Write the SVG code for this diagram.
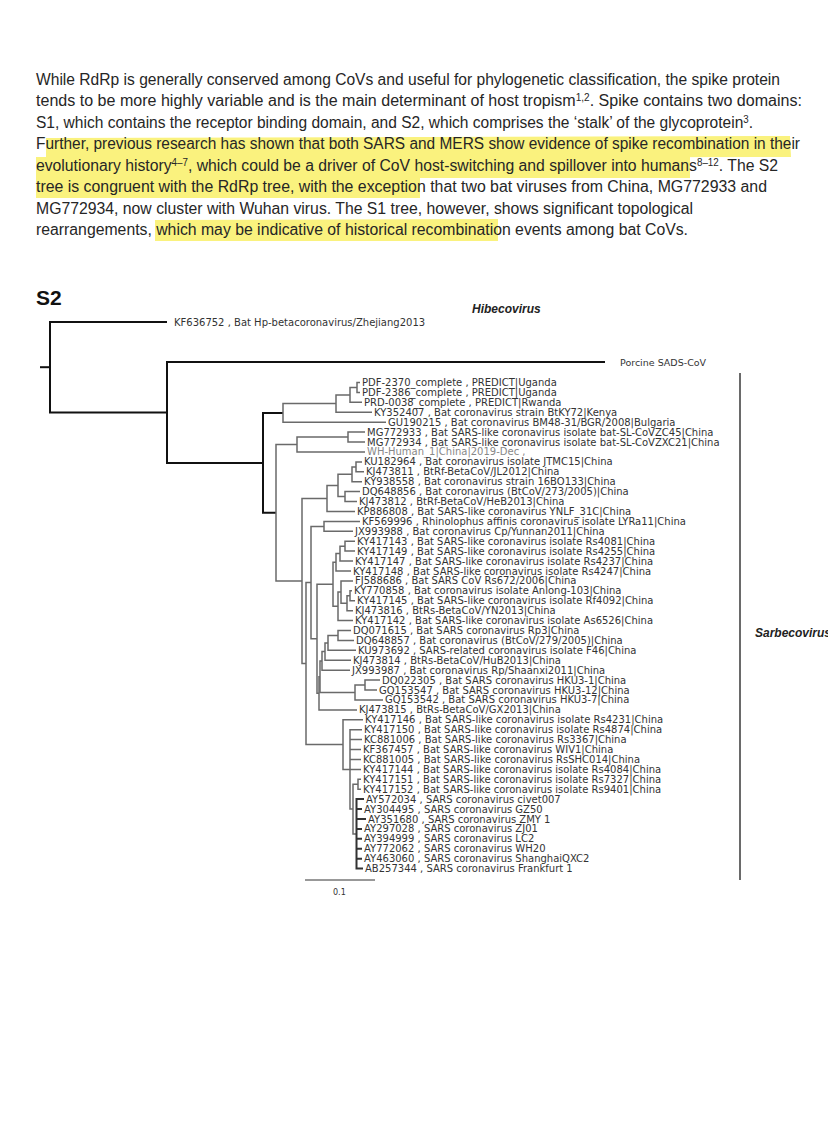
<svg xmlns="http://www.w3.org/2000/svg" width="828" height="1128" viewBox="0 0 828 1128" xml:space="preserve">
<style>
.p{font-family:"Liberation Sans",Arial,sans-serif;font-size:16px;fill:#262626}
.sup{font-size:10px}
.hl{fill:#faf27e}
.k{fill:none;stroke:#111;stroke-width:2}
.g{fill:none;stroke:#6a6a6a;stroke-width:1.5}
.d{fill:none;stroke:#333;stroke-width:2}
.t{font-family:"DejaVu Sans",Verdana,sans-serif;font-size:10px;fill:#333}
.cl{font-family:"Liberation Sans",Arial,sans-serif;font-size:12px;font-weight:bold;font-style:italic;fill:#222}
</style>
<rect width="828" height="1128" fill="#fff"/>
<g id="highlights">
<path class="hl" d="M46 138 L790 136 L791 157 L46 158 Z"/>
<path class="hl" d="M36 157 L690 157 L690 178 L36 178 Z"/>
<path class="hl" d="M36 178 L420 178 L420 198 L36 198 Z"/>
<path class="hl" d="M155 220 L498 219 L498 241 L155 241 Z"/>
</g>
<g id="paragraph">
<text class="p" x="36" y="84.5" textLength="744" lengthAdjust="spacingAndGlyphs">While RdRp is generally conserved among CoVs and useful for phylogenetic classification, the spike protein</text>
<text class="p" x="36" y="106" textLength="766" lengthAdjust="spacingAndGlyphs">tends to be more highly variable and is the main determinant of host tropism<tspan class="sup" dy="-5">1,2</tspan><tspan dy="5">. Spike contains two domains:</tspan></text>
<text class="p" x="36" y="127.5" textLength="717" lengthAdjust="spacingAndGlyphs">S1, which contains the receptor binding domain, and S2, which comprises the ‘stalk’ of the glycoprotein<tspan class="sup" dy="-5">3</tspan><tspan dy="5">.</tspan></text>
<text class="p" x="36" y="149" textLength="764" lengthAdjust="spacingAndGlyphs">Further, previous research has shown that both SARS and MERS show evidence of spike recombination in their</text>
<text class="p" x="36" y="170.5" textLength="742" lengthAdjust="spacingAndGlyphs">evolutionary history<tspan class="sup" dy="-5">4–7</tspan><tspan dy="5">, which could be a driver of CoV host-switching and spillover into humans</tspan><tspan class="sup" dy="-5">8–12</tspan><tspan dy="5">. The S2</tspan></text>
<text class="p" x="36" y="192" textLength="731" lengthAdjust="spacingAndGlyphs">tree is congruent with the RdRp tree, with the exception that two bat viruses from China, MG772933 and</text>
<text class="p" x="36" y="213.5" textLength="657" lengthAdjust="spacingAndGlyphs">MG772934, now cluster with Wuhan virus. The S1 tree, however, shows significant topological</text>
<text class="p" x="36" y="235" textLength="652" lengthAdjust="spacingAndGlyphs">rearrangements, which may be indicative of historical recombination events among bat CoVs.</text>
</g>
<g id="title"><text x="36" y="305" font-family="Liberation Sans,Arial,sans-serif" font-size="21" font-weight="bold" fill="#111">S2</text></g>
<g id="connectors">
<path class="k" d="M40 367.2 H50"/>
<path class="k" d="M167 322 H50 V412.4 H167"/>
<path class="k" d="M605 362 H167 V462.9 H263"/>
<path class="k" d="M283 412.9 H263 V512.8 H276"/>
<path class="g" d="M336 403.6 H283 V422.2 H386"/>
<path class="g" d="M350 394.9 H336 V412.3 H372"/>
<path class="g" d="M357 387.5 H350 V402.3 H362"/>
<path class="g" d="M360 382.5 H357 V392.4 H360"/>
<path class="g" d="M297 444.5 H276 V581 H302"/>
<path class="g" d="M348 437 H297 V451.9 H365"/>
<path class="g" d="M365 432.1 H348 V442 H365"/>
<path class="g" d="M327 498.5 H302 V663.6 H306"/>
<path class="g" d="M338 485.4 H327 V511.5 H355"/>
<path class="g" d="M352 474.3 H338 V496.6 H345"/>
<path class="g" d="M356 466.9 H352 V481.7 H362"/>
<path class="g" d="M362 461.9 H356 V471.8 H364"/>
<path class="g" d="M360 491.6 H345 V501.5 H357"/>
<path class="g" d="M311 582.6 H306 V744.6 H343"/>
<path class="g" d="M324 526.4 H311 V638.8 H317"/>
<path class="g" d="M360 521.4 H324 V531.3 H353"/>
<path class="g" d="M333 584.3 H317 V693.3 H319"/>
<path class="g" d="M336 562.3 H333 V606.3 H338"/>
<path class="g" d="M340 553.6 H336 V571 H351"/>
<path class="g" d="M345 546.2 H340 V561.1 H353"/>
<path class="g" d="M355 541.2 H345 V551.1 H355"/>
<path class="g" d="M341 592 H338 V620.6 H353"/>
<path class="g" d="M353 580.9 H341 V603.2 H347"/>
<path class="g" d="M350 595.8 H347 V610.7 H353"/>
<path class="g" d="M352 590.8 H350 V600.7 H355"/>
<path class="g" d="M320 676.7 H319 V709.9 H357"/>
<path class="g" d="M322 660.9 H320 V692.5 H355"/>
<path class="g" d="M325 651.6 H322 V670.2 H350"/>
<path class="g" d="M328 642.9 H325 V660.3 H351"/>
<path class="g" d="M338 635.5 H328 V650.3 H356"/>
<path class="g" d="M351 630.5 H338 V640.4 H354"/>
<path class="g" d="M365 685 H355 V699.9 H383"/>
<path class="g" d="M380 680.1 H365 V690 H377"/>
<path class="g" d="M363 719.8 H343 V769.4 H350"/>
<path class="g" d="M362 729.7 H350 V809.1 H353 M350 739.6 H362 M350 749.5 H361 M350 759.5 H361 M350 769.4 H361"/>
<path class="g" d="M358 784.3 H353 V833.9 H356.5"/>
<path class="g" d="M361 779.3 H358 V789.2 H361"/>
<path class="d" d="M364 799.1 H356.5 V868.6 H363 M356.5 809.1 H362 M356.5 819 H366 M356.5 828.9 H362 M356.5 838.8 H362 M356.5 848.7 H362 M356.5 858.7 H362"/>
<path d="M740 373 V880" fill="none" stroke="#6a6a6a" stroke-width="2"/>
<path d="M305 880 H375" fill="none" stroke="#333" stroke-width="1"/>
</g>
<g id="labels">
<g id="n-KF636752"><text class="t" x="174" y="325.5">KF636752 ,  Bat Hp-betacoronavirus/Zhejiang2013</text></g>
<g id="n-Hibecovirus"><text class="cl" x="472" y="313">Hibecovirus</text></g>
<g id="n-SADS"><text class="t" x="620" y="365.5" style="font-size:9.5px">Porcine SADS-CoV</text></g>
<g id="n-Sarbecovirus"><text class="cl" x="755" y="637">Sarbecovirus</text></g>
<g id="n0"><text class="t" x="362" y="386">PDF-2370_complete ,  PREDICT|Uganda</text></g>
<g id="n1"><text class="t" x="362" y="395.9">PDF-2386_complete ,  PREDICT|Uganda</text></g>
<g id="n2"><text class="t" x="364" y="405.8">PRD-0038_complete ,  PREDICT|Rwanda</text></g>
<g id="n3"><text class="t" x="374" y="415.8">KY352407 ,  Bat coronavirus strain BtKY72|Kenya</text></g>
<g id="n4"><text class="t" x="388" y="425.7">GU190215 ,  Bat coronavirus BM48-31/BGR/2008|Bulgaria</text></g>
<g id="n5"><text class="t" x="367" y="435.6">MG772933 ,  Bat SARS-like coronavirus isolate bat-SL-CoVZC45|China</text></g>
<g id="n6"><text class="t" x="367" y="445.5">MG772934 ,  Bat SARS-like coronavirus isolate bat-SL-CoVZXC21|China</text></g>
<g id="n7"><text class="t" x="367" y="455.4" style="fill:#888">WH-Human_1|China|2019-Dec ,</text></g>
<g id="n8"><text class="t" x="364" y="465.4">KU182964 ,  Bat coronavirus isolate JTMC15|China</text></g>
<g id="n9"><text class="t" x="366" y="475.3">KJ473811 ,  BtRf-BetaCoV/JL2012|China</text></g>
<g id="n10"><text class="t" x="364" y="485.2">KY938558 ,  Bat coronavirus strain 16BO133|China</text></g>
<g id="n11"><text class="t" x="362" y="495.1">DQ648856 ,  Bat coronavirus (BtCoV/273/2005)|China</text></g>
<g id="n12"><text class="t" x="359" y="505">KJ473812 ,  BtRf-BetaCoV/HeB2013|China</text></g>
<g id="n13"><text class="t" x="357" y="515">KP886808 ,  Bat SARS-like coronavirus YNLF_31C|China</text></g>
<g id="n14"><text class="t" x="362" y="524.9">KF569996 ,  Rhinolophus affinis coronavirus isolate LYRa11|China</text></g>
<g id="n15"><text class="t" x="355" y="534.8">JX993988 ,  Bat coronavirus Cp/Yunnan2011|China</text></g>
<g id="n16"><text class="t" x="357" y="544.7">KY417143 ,  Bat SARS-like coronavirus isolate Rs4081|China</text></g>
<g id="n17"><text class="t" x="357" y="554.6">KY417149 ,  Bat SARS-like coronavirus isolate Rs4255|China</text></g>
<g id="n18"><text class="t" x="355" y="564.6">KY417147 ,  Bat SARS-like coronavirus isolate Rs4237|China</text></g>
<g id="n19"><text class="t" x="353" y="574.5">KY417148 ,  Bat SARS-like coronavirus isolate Rs4247|China</text></g>
<g id="n20"><text class="t" x="355" y="584.4">FJ588686 ,  Bat SARS CoV Rs672/2006|China</text></g>
<g id="n21"><text class="t" x="354" y="594.3">KY770858 ,  Bat coronavirus isolate Anlong-103|China</text></g>
<g id="n22"><text class="t" x="357" y="604.2">KY417145 ,  Bat SARS-like coronavirus isolate Rf4092|China</text></g>
<g id="n23"><text class="t" x="355" y="614.2">KJ473816 ,  BtRs-BetaCoV/YN2013|China</text></g>
<g id="n24"><text class="t" x="355" y="624.1">KY417142 ,  Bat SARS-like coronavirus isolate As6526|China</text></g>
<g id="n25"><text class="t" x="353" y="634">DQ071615 ,  Bat SARS coronavirus Rp3|China</text></g>
<g id="n26"><text class="t" x="356" y="643.9">DQ648857 ,  Bat coronavirus (BtCoV/279/2005)|China</text></g>
<g id="n27"><text class="t" x="358" y="653.8">KU973692 ,  SARS-related coronavirus isolate F46|China</text></g>
<g id="n28"><text class="t" x="353" y="663.8">KJ473814 ,  BtRs-BetaCoV/HuB2013|China</text></g>
<g id="n29"><text class="t" x="352" y="673.7">JX993987 ,  Bat coronavirus Rp/Shaanxi2011|China</text></g>
<g id="n30"><text class="t" x="382" y="683.6">DQ022305 ,  Bat SARS coronavirus HKU3-1|China</text></g>
<g id="n31"><text class="t" x="379" y="693.5">GQ153547 ,  Bat SARS coronavirus HKU3-12|China</text></g>
<g id="n32"><text class="t" x="385" y="703.4">GQ153542 ,  Bat SARS coronavirus HKU3-7|China</text></g>
<g id="n33"><text class="t" x="359" y="713.4">KJ473815 ,  BtRs-BetaCoV/GX2013|China</text></g>
<g id="n34"><text class="t" x="365" y="723.3">KY417146 ,  Bat SARS-like coronavirus isolate Rs4231|China</text></g>
<g id="n35"><text class="t" x="364" y="733.2">KY417150 ,  Bat SARS-like coronavirus isolate Rs4874|China</text></g>
<g id="n36"><text class="t" x="364" y="743.1">KC881006 ,  Bat SARS-like coronavirus Rs3367|China</text></g>
<g id="n37"><text class="t" x="363" y="753">KF367457 ,  Bat SARS-like coronavirus WIV1|China</text></g>
<g id="n38"><text class="t" x="363" y="763">KC881005 ,  Bat SARS-like coronavirus RsSHC014|China</text></g>
<g id="n39"><text class="t" x="363" y="772.9">KY417144 ,  Bat SARS-like coronavirus isolate Rs4084|China</text></g>
<g id="n40"><text class="t" x="363" y="782.8">KY417151 ,  Bat SARS-like coronavirus isolate Rs7327|China</text></g>
<g id="n41"><text class="t" x="363" y="792.7">KY417152 ,  Bat SARS-like coronavirus isolate Rs9401|China</text></g>
<g id="n42"><text class="t" x="366" y="802.6">AY572034 ,  SARS coronavirus civet007</text></g>
<g id="n43"><text class="t" x="364" y="812.6">AY304495 ,  SARS coronavirus GZ50</text></g>
<g id="n44"><text class="t" x="368" y="822.5">AY351680 ,  SARS coronavirus ZMY 1</text></g>
<g id="n45"><text class="t" x="364" y="832.4">AY297028 ,  SARS coronavirus ZJ01</text></g>
<g id="n46"><text class="t" x="364" y="842.3">AY394999 ,  SARS coronavirus LC2</text></g>
<g id="n47"><text class="t" x="364" y="852.2">AY772062 ,  SARS coronavirus WH20</text></g>
<g id="n48"><text class="t" x="364" y="862.2">AY463060 ,  SARS coronavirus ShanghaiQXC2</text></g>
<g id="n49"><text class="t" x="365" y="872.1">AB257344 ,  SARS coronavirus Frankfurt 1</text></g>
<g id="scale"><text class="t" x="333" y="895" style="font-size:8px">0.1</text></g>
</g>
</svg>
